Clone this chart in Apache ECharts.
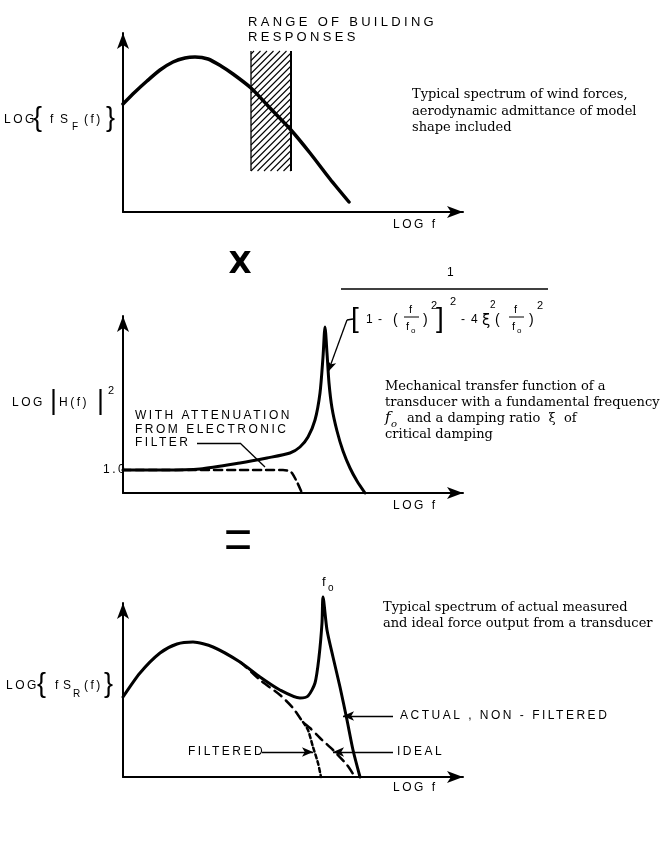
<!DOCTYPE html>
<html lang="en">
<head>
<meta charset="UTF-8" />
<title>Wind force spectrum x transducer transfer function</title>
<script src="https://cdn.jsdelivr.net/npm/echarts@6/dist/echarts.min.js"></script>
<style>
  html, body { margin: 0; padding: 0; background: #fff; }
  #chart { width: 666px; height: 846px; }
</style>
</head>
<body>
<div id="chart"></div>
<script>
/* ---------- data (units: px along each axis from its origin) ---------- */
const windForce = [[0,108],[12,120],[24,131],[37,142],[50,150],[62,154],[72,155],[85,153],[98,146],[110,138],[128,124],[147,104],[168,82],[187,59],[207,33],[226,10]];
const buildingBand = [[128, 41, 168, 161]]; // x0, y0, x1, y1

const transferSolid = [[0,23],[40,23],[77,24],[117,30],[144,35],[167,40],[177,46],[185,56],[192,73],[197,100],[200,136],[202,166],[204,140],[206,110],[209,85],[214,62],[220,42],[227,25],[234,12],[242,0]];
const transferFiltered = [[0,23],[160,23],[166,22],[169,20],[174,11],[179,0]];

const responseActual = [[0,80],[17,104],[37,124],[54,133],[70,135],[90,130],[117,115],[137,100],[157,87],[177,79],[185,81],[192,94],[196,120],[199,154],[200,180],[204,147],[210,120],[217,90],[224,57],[230,27],[237,0]];
const responseIdeal = [[117,115],[124,109],[137,97],[157,82],[170,69],[180,55],[187,49],[197,39],[210,27],[224,12],[232,0]];
const responseFiltered = [[180,55],[185,47],[190,30],[195,14],[198,0]];

// leader lines / arrows [from, to]
const filterLeader = [[[74,50],[117,50]], [[117,50],[142,26]]];
const formulaTick = [[230,174],[224,173]];
const formulaArrow = [[224,173],[205,121]];
const responseArrows = [[[270,61],[220,61]], [[270,25],[210,25]], [[139,25],[190,25]]];

/* ---------- helpers ---------- */
const ink = "#000";
const SANS = '"Liberation Sans"';
const SERIF = '"DejaVu Serif"';

// lettering in the original drawing is widely tracked
const fillTextOrig = CanvasRenderingContext2D.prototype.fillText;
CanvasRenderingContext2D.prototype.fillText = function (t, x, y, w) {
  if (String(t).length > 1 && /Liberation Sans/.test(this.font)) {
    const m = /(\d+(?:\.\d+)?)px/.exec(this.font);
    const size = m ? +m[1] : 12;
    this.letterSpacing = (size >= 13 ? 3.3 : size * 0.21).toFixed(1) + "px";
  } else {
    this.letterSpacing = "0px";
  }
  return w === undefined ? fillTextOrig.call(this, t, x, y) : fillTextOrig.call(this, t, x, y, w);
};

const txt = (x, y, text, size, family, extra = {}) => {
  const { style = {}, ...rest } = extra;
  return {
    type: "text", x, y, silent: true, ...rest,
    style: {
      text, fill: ink, font: size + "px " + (family || SANS),
      textAlign: "left", textVerticalAlign: "middle", align: "left", verticalAlign: "middle",
      ...style
    }
  };
};

const hline = (x1, x2, y, w) => ({
  type: "line", silent: true,
  shape: { x1, y1: y, x2, y2: y },
  style: { stroke: ink, lineWidth: w || 1 }
});

const grids = [
  { left: 123, top: 33, width: 340, height: 179 },
  { left: 123, top: 316, width: 340, height: 177 },
  { left: 123, top: 603, width: 340, height: 174 }
];

const axisLine = {
  show: true, onZero: false,
  symbol: ["none", "arrow"], symbolSize: [9, 16],
  lineStyle: { color: ink, width: 2 }
};
const xAx = (i) => ({
  type: "value", gridIndex: i, min: 0, max: 340,
  axisLine, axisTick: { show: false }, axisLabel: { show: false }, splitLine: { show: false }
});
const yAx = (i, max) => ({
  type: "value", gridIndex: i, min: 0, max,
  axisLine, axisTick: { show: false }, axisLabel: { show: false }, splitLine: { show: false }
});

const curve = (i, data, width, type) => ({
  type: "line", xAxisIndex: i, yAxisIndex: i, data,
  symbol: "none", smooth: 0.25, clip: false, silent: true,
  lineStyle: { color: ink, width, type: type || "solid", cap: "round", join: "round" }
});

const seg = (a, b, arrow) => [
  { coord: a, symbol: "none" },
  { coord: b, symbol: arrow ? "arrow" : "none" }
];
const marks = (list) => ({
  silent: true, animation: false,
  symbolSize: [7, 11],
  label: { show: false },
  lineStyle: { color: ink, width: 1.3, type: "solid" },
  emphasis: { disabled: true },
  data: list
});

/* ---------- hatched band ---------- */
function renderBand(params, api) {
  const p0 = api.coord([api.value(0), api.value(1)]);
  const p1 = api.coord([api.value(2), api.value(3)]);
  const x1 = p0[0], x2 = p1[0], yTop = p1[1], yBot = p0[1];
  const children = [];
  for (let c = x1 + yTop + 3; c <= x2 + yBot; c += 6.5) {
    const xa = Math.max(x1, c - yBot);
    const xb = Math.min(x2, c - yTop);
    if (xb > xa) {
      children.push({ type: "line", shape: { x1: xa, y1: c - xa, x2: xb, y2: c - xb }, style: { stroke: ink, lineWidth: 1.1 } });
    }
  }
  children.push({ type: "line", shape: { x1, y1: yTop, x2: x1, y2: yBot }, style: { stroke: ink, lineWidth: 1.3 } });
  children.push({ type: "line", shape: { x1: x2, y1: yTop, x2, y2: yBot }, style: { stroke: ink, lineWidth: 2 } });
  return { type: "group", children };
}

/* ---------- text & formula ---------- */
const graphic = [
  // panel 1
  txt(248, 22, "RANGE OF BUILDING", 13),
  txt(248, 37, "RESPONSES", 13),
  txt(4, 120, "LOG", 12),
  txt(33, 119, "{", 27),
  txt(50, 120, "f", 12),
  txt(60, 120, "S", 12),
  txt(72, 127, "F", 10),
  txt(84, 120, "(f)", 12),
  txt(106, 119, "}", 27),
  txt(393, 225, "LOG f", 12),
  txt(412, 95, "Typical spectrum of wind forces,", 13, SERIF),
  txt(412, 112, "aerodynamic admittance of model", 13, SERIF),
  txt(412, 128, "shape included", 13, SERIF),

  txt(240, 265, "X", 30, null, { style: { textAlign: "center", align: "center", font: 'bold 30px "DejaVu Sans"' } }),

  // formula
  txt(447, 273, "1", 12),
  hline(341, 548, 289, 1.6),
  txt(351, 319, "[", 28),
  txt(366, 320, "1", 12),
  txt(378, 320, "-", 12),
  txt(393, 320, "(", 14),
  txt(409, 310, "f", 11),
  hline(404, 419, 317, 1),
  txt(406, 327, "f", 11),
  txt(411, 331, "o", 8),
  txt(423, 320, ")", 14),
  txt(431, 306, "2", 11),
  txt(436, 319, "]", 28),
  txt(450, 302, "2", 11),
  txt(461, 320, "-", 12),
  txt(471, 320, "4", 12),
  txt(482, 321, "ξ", 15, '"DejaVu Sans"'),
  txt(490, 305, "2", 10),
  txt(495, 320, "(", 14),
  txt(514, 310, "f", 11),
  hline(509, 524, 317, 1),
  txt(512, 327, "f", 11),
  txt(517, 331, "o", 8),
  txt(529, 320, ")", 14),
  txt(537, 306, "2", 11),

  // panel 2
  txt(12, 403, "LOG", 12),
  txt(50, 402, "|", 27),
  txt(59, 403, "H(f)", 12),
  txt(97, 402, "|", 27),
  txt(108, 391, "2", 11),
  txt(103, 470, "1.0", 12),
  txt(135, 416, "WITH ATTENUATION", 12),
  txt(135, 430, "FROM ELECTRONIC", 12),
  txt(135, 443, "FILTER", 12),
  txt(393, 506, "LOG f", 12),
  txt(385, 387, "Mechanical transfer function of a", 13, SERIF),
  txt(385, 403, "transducer with a fundamental frequency", 13, SERIF),
  txt(385, 418, "f", 15, SERIF, { style: { font: "italic 15px " + SERIF } }),
  txt(391, 424, "o", 10, SERIF, { style: { font: "italic 10px " + SERIF } }),
  txt(407, 419, "and a damping ratio  ξ  of", 13, SERIF),
  txt(385, 435, "critical damping", 13, SERIF),

  txt(238, 545, "=", 46, '"Liberation Serif"', { scaleX: 1.1, scaleY: 1.6, style: { textAlign: "center", align: "center" } }),

  // panel 3
  txt(322, 582, "f", 13),
  txt(328, 588, "o", 10),
  txt(383, 608, "Typical spectrum of actual measured", 13, SERIF),
  txt(383, 624, "and ideal force output from a transducer", 13, SERIF),
  txt(6, 686, "LOG", 12),
  txt(37, 685, "{", 27),
  txt(55, 686, "f", 12),
  txt(63, 686, "S", 12),
  txt(73, 694, "R", 10),
  txt(84, 686, "(f)", 12),
  txt(104, 685, "}", 27),
  txt(400, 716, "ACTUAL , NON - FILTERED", 12),
  txt(397, 752, "IDEAL", 12),
  txt(188, 752, "FILTERED", 12),
  txt(393, 788, "LOG f", 12)
];

/* ---------- chart ---------- */
const chart = echarts.init(document.getElementById("chart"), null, { renderer: "canvas" });

const option = {
  backgroundColor: "#fff",
  animation: false,
  grid: grids.map((g) => Object.assign({ outerBoundsMode: "none" }, g)),
  xAxis: [xAx(0), xAx(1), xAx(2)],
  yAxis: [yAx(0, 179), yAx(1, 177), yAx(2, 174)],
  graphic,
  series: [
    {
      type: "custom", xAxisIndex: 0, yAxisIndex: 0, silent: true,
      data: buildingBand, encode: { x: [0, 2], y: [1, 3] },
      renderItem: renderBand
    },
    curve(0, windForce, 3.5),

    curve(1, transferFiltered, 2.5, [8, 5]),
    Object.assign(curve(1, transferSolid, 3), {
      markLine: marks([
        ...filterLeader.map(([a, b]) => seg(a, b, false)),
        seg(formulaTick[0], formulaTick[1], false),
        seg(formulaArrow[0], formulaArrow[1], true)
      ])
    }),

    curve(2, responseIdeal, 2.5, [9, 6]),
    curve(2, responseFiltered, 2.5, [4, 3]),
    Object.assign(curve(2, responseActual, 3), {
      markLine: marks(responseArrows.map(([a, b]) => seg(a, b, true)))
    })
  ]
};

chart.setOption(option);
</script>
</body>
</html>
